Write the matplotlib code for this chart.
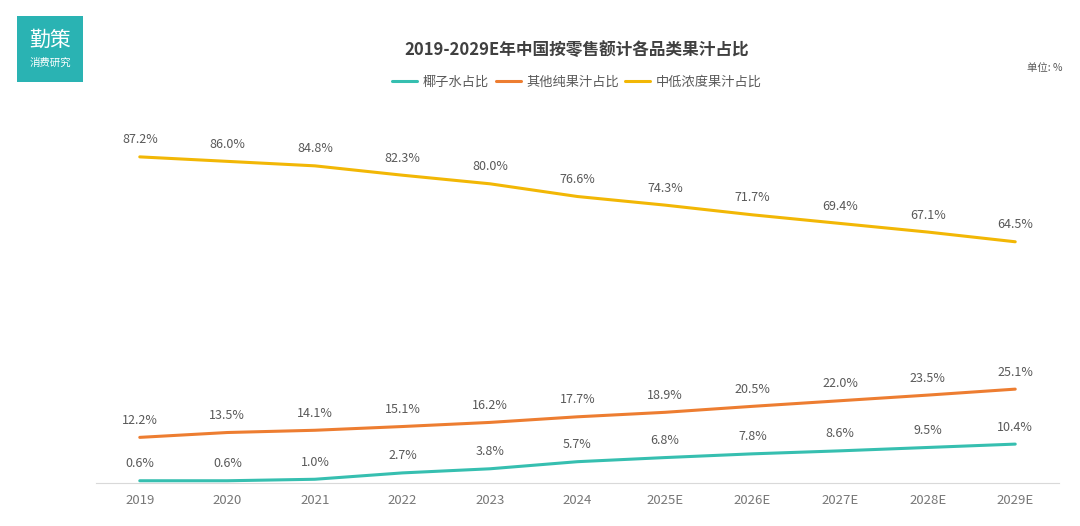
import matplotlib
matplotlib.use("Agg")
import matplotlib.pyplot as plt
from matplotlib.patches import Rectangle

plt.rcParams['font.family'] = ['Noto Sans CJK SC', 'DejaVu Sans']

# data
years = ["2019", "2020", "2021", "2022", "2023", "2024", "2025E", "2026E", "2027E", "2028E", "2029E"]
coconut = [0.6, 0.6, 1.0, 2.7, 3.8, 5.7, 6.8, 7.8, 8.6, 9.5, 10.4]
other_pure = [12.2, 13.5, 14.1, 15.1, 16.2, 17.7, 18.9, 20.5, 22.0, 23.5, 25.1]
low_conc = [87.2, 86.0, 84.8, 82.3, 80.0, 76.6, 74.3, 71.7, 69.4, 67.1, 64.5]
names = ["椰子水占比", "其他纯果汁占比", "中低浓度果汁占比"]
colors = ["#36BFB0", "#ED7D31", "#F2B705"]

fig = plt.figure(figsize=(10.8, 5.26), dpi=100)
ax = fig.add_axes([96/1080, 43/526, 963/1080, 374/526])

x = list(range(len(years)))
lines = []
for vals, name, c in zip([coconut, other_pure, low_conc], names, colors):
    ln, = ax.plot(x, vals, color=c, lw=2.2, label=name, solid_capstyle='round')
    lines.append(ln)
    for xi, v in zip(x, vals):
        ax.annotate(f"{v:.1f}%", (xi, v), xytext=(0, 7.5), textcoords='offset points',
                    ha='center', va='bottom', fontsize=9, color='#595959')

ax.set_xlim(-0.5, 10.5)
ax.set_ylim(0, 100)
ax.set_xticks(x)
ax.set_xticklabels(years, fontsize=9.5, color='#777777')
ax.tick_params(axis='x', length=0, pad=8)
ax.set_yticks([])
for s in ['top', 'right', 'left']:
    ax.spines[s].set_visible(False)
ax.spines['bottom'].set_color('#d9d9d9')

fig.text(577/1080, 1 - 50/526, "2019-2029E年中国按零售额计各品类果汁占比",
         ha='center', va='center', fontsize=12, fontweight='bold', color='#404040')
fig.legend(handles=lines, loc='center', bbox_to_anchor=(577/1080, 1 - 82/526), ncol=3,
           frameon=False, fontsize=9.5, handlelength=1.9, columnspacing=0.5, handletextpad=0.4,
           labelcolor='#595959')
fig.text(1045/1080, 1 - 68/526, "单位: %", ha='center', va='center', fontsize=7.5, color='#595959')

# logo
fig.patches.append(Rectangle((17/1080, 1 - 82/526), 66/1080, 66/526, transform=fig.transFigure,
                             facecolor='#2AB3B3', edgecolor='none'))
fig.text(50/1080, 1 - 40/526, "勤策", ha='center', va='center', fontsize=15, color='white')
fig.text(50/1080, 1 - 63/526, "消费研究", ha='center', va='center', fontsize=7.5, color='white')

fig.savefig("out.png", dpi=100)
